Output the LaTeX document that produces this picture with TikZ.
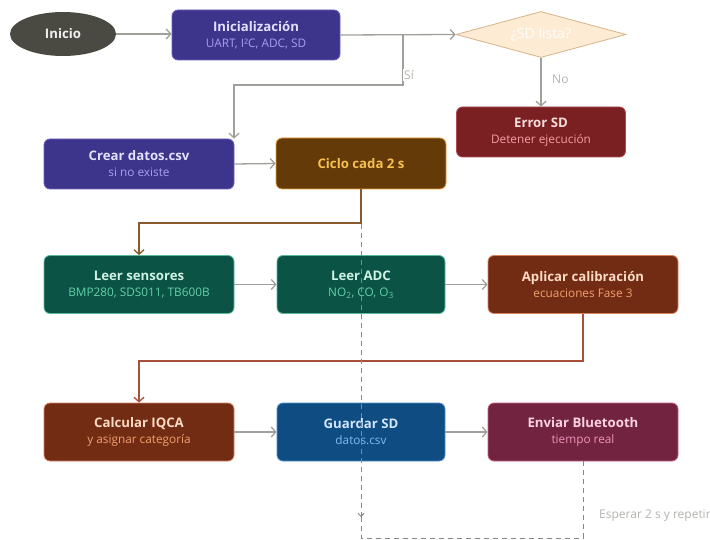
\documentclass[tikz,border=0pt]{standalone}
\usepackage{fontspec}
\setmainfont{Open Sans}
\usetikzlibrary{arrows.meta,shapes.geometric}
\definecolor{ini}{HTML}{4A4A42}
\definecolor{purp}{HTML}{3D348B}
\definecolor{purpb}{HTML}{6A60C0}
\definecolor{purpt}{HTML}{E4E0FF}
\definecolor{purps}{HTML}{A99FF0}
\definecolor{dia}{HTML}{FDEBD3}
\definecolor{diab}{HTML}{D6B48A}
\definecolor{err}{HTML}{7A1F22}
\definecolor{errb}{HTML}{B04850}
\definecolor{errt}{HTML}{F8DCDC}
\definecolor{errs}{HTML}{F2A0A4}
\definecolor{cic}{HTML}{633A08}
\definecolor{cicb}{HTML}{F0A030}
\definecolor{cict}{HTML}{F8C050}
\definecolor{grn}{HTML}{0B5345}
\definecolor{grnb}{HTML}{5AB89A}
\definecolor{grnt}{HTML}{CDF2E4}
\definecolor{grns}{HTML}{62D0A8}
\definecolor{rst}{HTML}{732C14}
\definecolor{rstb}{HTML}{D88060}
\definecolor{rstt}{HTML}{FCDAC4}
\definecolor{rsts}{HTML}{F0A070}
\definecolor{blu}{HTML}{0F4C81}
\definecolor{blub}{HTML}{5090D0}
\definecolor{blut}{HTML}{D0E6FF}
\definecolor{blus}{HTML}{82BAF0}
\definecolor{mag}{HTML}{722340}
\definecolor{magb}{HTML}{C86088}
\definecolor{magt}{HTML}{FCD2E2}
\definecolor{mags}{HTML}{F092BA}
\definecolor{arr}{HTML}{A0A09A}
\definecolor{brn}{HTML}{8B5A2B}
\definecolor{red2}{HTML}{A8503A}
\definecolor{lbl}{HTML}{B4B4B0}
\newcommand{\twol}[4]{{\color{#3}\bfseries\fontsize{13.2}{15}\selectfont #1}\\[4pt]{\color{#4}\fontsize{11.8}{13}\selectfont #2}}
\begin{document}
\begin{tikzpicture}[x=1pt,y=-1pt,
  box/.style={rectangle,rounded corners=6pt,line width=0.8pt,align=center,inner sep=2pt},
  rowa/.style={box,minimum height=50pt},
  rowb/.style={box,minimum height=58pt},
  conn/.style={draw=arr,line width=1.3pt,-{Straight Barb[length=4.5pt,width=10pt]}},
  loopl/.style={draw=arr!85!black,line width=1pt,dash pattern=on 5pt off 4pt},
  elab/.style={text=lbl,font=\fontsize{12}{14}\selectfont,inner sep=1pt}]
\useasboundingbox[fill=white] (0,0) rectangle (710,540);

\node[ellipse,fill=ini,minimum width=106pt,minimum height=44pt,inner sep=0pt,
  text=white!92!ini,font=\bfseries\fontsize{13.2}{15}\selectfont] (inicio) at (63,34) {Inicio};
\node[rowa,fill=purp,draw=purpb,minimum width=168pt] (init) at (256,35) {\twol{Inicialización}{UART, I²C, ADC, SD}{purpt}{purps}};
\node[diamond,fill=dia,draw=diab,line width=0.8pt,minimum width=170pt,minimum height=46pt,aspect=3.7,inner sep=0pt,
  text=white!96!dia,font=\fontsize{14}{16}\selectfont] (sd) at (541,34.5) {¿SD lista?};
\node[rowa,fill=err,draw=errb,minimum width=169pt] (err) at (541,132) {\twol{Error SD}{Detener ejecución}{errt}{errs}};
\node[rowa,fill=purp,draw=purpb,minimum width=190pt] (crear) at (139,164) {\twol{Crear datos.csv}{si no existe}{purpt}{purps}};
\node[rowa,fill=cic,draw=cicb,minimum width=170pt,minimum height=51pt,text=cict,font=\bfseries\fontsize{13.2}{15}\selectfont] (ciclo) at (361,163.5) {Ciclo cada 2 s};

\node[rowb,fill=grn,draw=grnb,minimum width=190pt] (leer) at (139,284.5) {\twol{Leer sensores}{BMP280, SDS011, TB600B}{grnt}{grns}};
\node[rowb,fill=grn,draw=grnb,minimum width=168pt] (adc) at (361,284.5) {\twol{Leer ADC}{NO\textsubscript{2}, CO, O\textsubscript{3}}{grnt}{grns}};
\node[rowb,fill=rst,draw=rstb,minimum width=190pt] (cal) at (583,284.5) {\twol{Aplicar calibración}{ecuaciones Fase 3}{rstt}{rsts}};

\node[rowb,fill=rst,draw=rstb,minimum width=190pt] (iqca) at (139,432) {\twol{Calcular IQCA}{y asignar categoría}{rstt}{rsts}};
\node[rowb,fill=blu,draw=blub,minimum width=168pt] (sdw) at (361,432) {\twol{Guardar SD}{datos.csv}{blut}{blus}};
\node[rowb,fill=mag,draw=magb,minimum width=190pt] (bt) at (583,432) {\twol{Enviar Bluetooth}{tiempo real}{magt}{mags}};

\coordinate (j1) at (403,35);
\coordinate (j2) at (403,85);
\coordinate (j3) at (234,85);
\coordinate (c1) at (361,223);
\coordinate (c2) at (139,223);
\coordinate (a1) at (583,361);
\coordinate (a2) at (139,361);
\coordinate (l1) at (583,538);
\coordinate (l2) at (361,538);
\coordinate (l3) at (361,517);

\draw[conn] (inicio.east) -- (inicio.east -| init.west);
\draw[conn] (init.east) -- (sd.west);
\draw[conn] (j1) -- (j2) -- (j3) -- (crear.north -| j3);
\node[elab,fill=white,anchor=west] (si) at (403,75) {Sí};
\draw[conn] (sd.south) -- (err.north);
\node[elab,anchor=west] (no) at (551,79) {No};
\draw[conn] (crear.east) -- (ciclo.west);
\draw[conn,draw=brn] (ciclo.south) -- (c1) -- (c2) -- (leer.north);
\draw[conn] (leer.east) -- (adc.west);
\draw[conn] (adc.east) -- (cal.west);
\draw[conn,draw=red2] (cal.south) -- (a1) -- (a2) -- (iqca.north);
\draw[conn] (iqca.east) -- (sdw.west);
\draw[conn] (sdw.east) -- (bt.west);

\draw[loopl] (bt.south) -- (l1) -- (l2) -- (l3);
\draw[loopl,solid,-{Straight Barb[length=3pt,width=6pt]}] ([yshift=2pt]l3) -- (l3);
\draw[loopl] (l3) -- (c1);
\node[text=lbl,font=\fontsize{12}{14}\selectfont,anchor=west,inner sep=0pt] (esp) at (599,516) {Esperar 2 s y repetir};
\end{tikzpicture}
\end{document}
